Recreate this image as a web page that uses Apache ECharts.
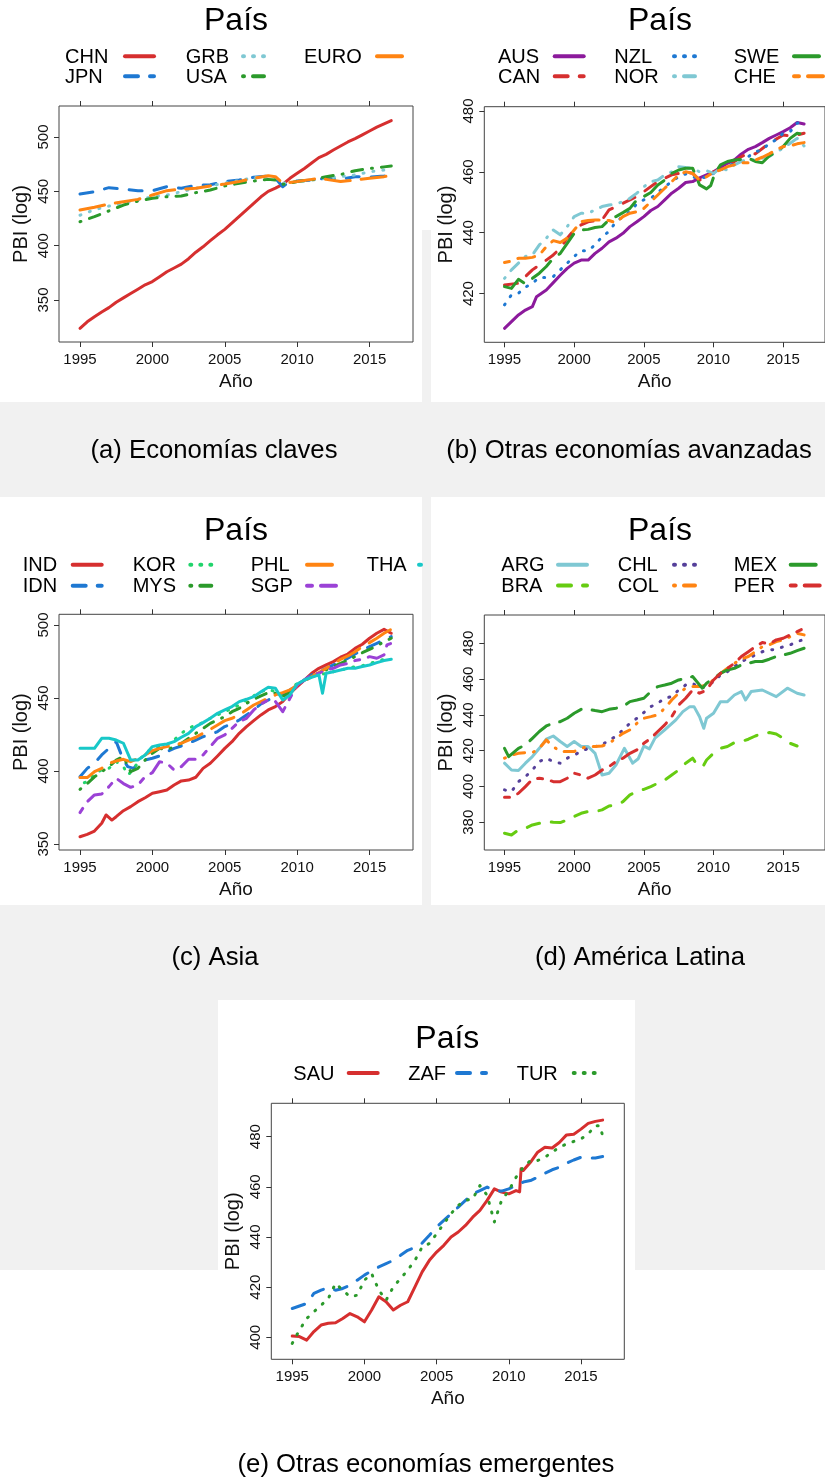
<!DOCTYPE html>
<html><head><meta charset="utf-8">
<script src="https://cdn.jsdelivr.net/npm/echarts@6/dist/echarts.min.js"></script>
<style>html,body{margin:0;padding:0;background:#fff}#c{width:825px;height:1481px}</style>
</head><body><div id="c"></div>
<script>
const FONT = '"Liberation Sans", Arial, Helvetica, sans-serif';
const xTicks = [1995, 2000, 2005, 2010, 2015];
const X_MIN = 1993.55, X_MAX = 2018.0;

// ---------- (a) Economías claves ----------
const CHN = [[1995,324],[1995.5,330],[1996,334.7],[1996.5,339],[1997,343],[1997.5,348],[1998,352],[1998.5,356],[1999,360],[1999.5,364],[2000,367],[2000.5,371.5],[2001,376],[2001.5,379.5],[2002,383],[2002.5,388],[2003,394],[2003.5,399],[2004,404.6],[2004.5,410],[2005,415],[2005.5,421],[2006,427],[2006.5,433],[2007,439],[2007.5,445],[2008,450],[2008.5,453],[2009,456.4],[2009.5,462],[2010,466.6],[2010.5,471],[2011,476],[2011.5,481],[2012,484],[2012.5,488],[2013,491.7],[2013.5,495.4],[2014,498.5],[2014.5,502],[2015,505.5],[2015.5,509],[2016,512],[2016.5,515]];
const JPN = [[1995,447.5],[1996,449.7],[1997,453.4],[1998,452],[1999,450.6],[2000,450.6],[2001,454.3],[2002,452.8],[2003,455.5],[2004,456],[2005,459],[2006,460.4],[2007,463],[2008,464],[2008.5,462],[2009,454.3],[2009.5,459],[2010,459.5],[2011,460.4],[2012,462],[2013,461],[2014,463.5],[2015,463],[2016,464],[2016.5,465]];
const GRB = [[1995,428],[1996,433],[1997,436.5],[1998,439],[1999,442],[2000,445],[2001,446.6],[2002,449.7],[2003,452.8],[2004,455],[2005,457.4],[2006,460],[2007,462.6],[2008,464],[2008.5,462],[2009,457.4],[2010,459],[2011,460.4],[2012,462],[2013,463.5],[2014,465],[2015,468],[2016,469.6],[2016.5,471]];
const USA = [[1995,422],[1996,426.7],[1997,432],[1998,437.4],[1999,441],[2000,443.6],[2001,445],[2002,445.7],[2003,448.8],[2004,451.2],[2005,455],[2006,457.4],[2007,459.5],[2008,461],[2008.5,460.4],[2009,456.4],[2009.5,457.4],[2010,459],[2011,460.4],[2012,463.5],[2013,465.5],[2014,469],[2015,471],[2016,472.5],[2016.5,473.3]];
const EURO = [[1995,432.8],[1996,435.3],[1997,438.3],[1998,440.5],[1999,442.6],[2000,446.6],[2001,450.6],[2002,452],[2003,452.8],[2004,455],[2005,456.7],[2006,459],[2007,462],[2008,464.4],[2008.5,463.5],[2009,457.4],[2010,459],[2011,461],[2011.5,462],[2012,461],[2013,459],[2014,460.4],[2015,462],[2016,463.5],[2016.5,465]];

// ---------- (b) Otras economías avanzadas ----------
const AUS = [[1995,408.6],[1995.5,410.8],[1996,413],[1996.5,414.6],[1997,415.7],[1997.3,419],[1998,421.2],[1998.5,423.6],[1999,426],[1999.5,428.3],[2000,430],[2000.5,431],[2001,431],[2001.5,433.2],[2002,434.9],[2002.5,437],[2003,438.2],[2003.5,439.8],[2004,442],[2004.5,443.6],[2005,445.3],[2005.5,447.3],[2006,448.6],[2006.5,450.8],[2007,453],[2007.5,454.6],[2008,456.5],[2008.5,456.8],[2009,458],[2009.5,459],[2010,460],[2010.5,461.4],[2011,462.8],[2011.5,463.9],[2012,465.9],[2012.5,467.4],[2013,468.3],[2013.5,469.6],[2014,471],[2014.5,472.1],[2015,473.2],[2015.5,474.5],[2016,476.2],[2016.5,475.7]];
const CAN = [[1995,422.8],[1996,423.4],[1996.5,425.6],[1997,427.8],[1997.5,429.4],[1998,431],[1998.5,432.7],[1999,434.9],[1999.5,438.2],[2000,440.9],[2000.5,442.6],[2001,443.6],[2002,444.2],[2002.5,447.5],[2003,448.6],[2004,450.8],[2004.5,451.9],[2005,453.5],[2006,456.8],[2007,459],[2008,460],[2008.5,459.5],[2009,457.3],[2009.5,458.4],[2010,460],[2011,461.7],[2012,465],[2012.5,466.1],[2013,465.9],[2014,469.4],[2015,472.1],[2015.5,471.8],[2016,472.1],[2016.5,472.7]];
const NZL = [[1995,416.3],[1995.5,419.6],[1996,420.1],[1996.5,422.1],[1997,423.4],[1997.5,425.3],[1998,425.3],[1998.5,425.6],[1999,427.8],[1999.5,430],[2000,432.2],[2000.5,434.1],[2001,434.1],[2001.5,436],[2002,438.7],[2002.5,440.4],[2003,443.6],[2003.5,445.3],[2004,446.9],[2004.5,449.5],[2005,450.8],[2005.5,451.3],[2006,453.2],[2006.5,455.1],[2007,456.8],[2007.5,458.4],[2008,459.3],[2008.5,458.4],[2009,457.7],[2009.5,458.4],[2010,459.5],[2011,461.7],[2011.5,462.8],[2012,463.6],[2012.5,465],[2013,466.6],[2013.5,467.2],[2014,469.4],[2014.5,470.5],[2015,472.7],[2015.5,473.2],[2016,476],[2016.5,476.2]];
const NOR = [[1995,425],[1995.5,427.8],[1996,430],[1996.5,432.2],[1997,432.7],[1997.5,436],[1998,438.2],[1998.5,440.9],[1999,439.3],[1999.5,442],[2000,445.3],[2000.5,446.4],[2001,446.4],[2001.5,447.5],[2002,448.6],[2002.5,449.1],[2003,449.5],[2003.5,450.2],[2004,451.3],[2004.5,453],[2005,455.1],[2005.5,456.8],[2006,457.3],[2006.5,459],[2007,460],[2007.5,461.7],[2008,461.4],[2008.5,461.2],[2009,460],[2009.5,460.4],[2010,459.5],[2010.5,461.2],[2011,460.6],[2011.5,462.3],[2012,463.4],[2012.5,464.1],[2013,463.9],[2013.5,464.5],[2014,465],[2014.5,466.6],[2015,467.7],[2015.5,469.4],[2016,471],[2016.5,468.5]];
const SWE = [[1995,422.3],[1995.5,421.7],[1996,424.7],[1996.5,423.2],[1997,425],[1997.5,426.7],[1998,428.9],[1998.5,431.6],[1999,433.2],[1999.5,436.5],[2000,439.8],[2000.5,440.9],[2001,441.1],[2001.5,441.7],[2002,442],[2002.5,444.2],[2003,445.3],[2003.5,446.6],[2004,448],[2004.5,450.8],[2005,451.9],[2005.5,453.2],[2006,455.7],[2006.5,457.3],[2007,459.5],[2007.5,460.6],[2008,461.2],[2008.5,461.2],[2009,455.7],[2009.5,454.4],[2009.8,455.5],[2010.1,459.5],[2010.5,462.3],[2011,463.4],[2011.5,463.9],[2012,464.1],[2012.5,464.5],[2013,463.4],[2013.5,463],[2014,465.2],[2014.5,466.6],[2015,468.3],[2015.5,471],[2016,472.7],[2016.2,472.5]];
const CHE = [[1995,430.2],[1995.5,430.7],[1996,431.6],[1996.5,431.6],[1997,431.9],[1997.5,432.7],[1998,435.4],[1998.5,437.4],[1999,436.8],[1999.5,438.2],[2000,440.9],[2000.5,443.6],[2001,444],[2001.5,444.2],[2002,444.2],[2002.5,444],[2003,443.3],[2003.5,445.3],[2004,446.4],[2004.5,446.9],[2005,448],[2005.5,450.2],[2006,452.4],[2006.5,454.6],[2007,456.8],[2007.5,459],[2008,460],[2008.5,459.5],[2009,457.3],[2009.5,458.4],[2010,459.9],[2010.5,460.6],[2011,461.7],[2011.5,462.3],[2012,463],[2012.5,463],[2013,463.9],[2013.5,464.8],[2014,465.9],[2014.5,467.2],[2015,468.3],[2015.5,468.5],[2016,469.2],[2016.5,469.6]];

// ---------- (c) Asia ----------
const IND = [[1995,355],[1995.5,356.6],[1996,358.9],[1996.5,364.2],[1996.8,369.9],[1997.2,366.4],[1997.5,368.7],[1998,372.8],[1998.5,375.6],[1999,379],[1999.5,381.7],[2000,384.7],[2000.5,385.8],[2001,387],[2001.5,390.4],[2002,393.2],[2002.5,393.8],[2003,395.7],[2003.5,401.8],[2004,405.3],[2004.5,410.3],[2005,415.5],[2005.5,420.1],[2006,425.8],[2006.5,430.4],[2007,434.5],[2007.5,438.4],[2008,441.8],[2008.5,444.1],[2009,447.5],[2009.5,453.2],[2010,457.8],[2010.5,462.3],[2011,466.9],[2011.5,470.3],[2012,472.6],[2012.5,474.9],[2013,477.9],[2013.5,480.1],[2014,484],[2014.5,486.8],[2015,490.9],[2015.5,494.3],[2016,497],[2016.5,494.3]];
const IDN = [[1995,396],[1995.5,401.8],[1996,405.3],[1996.5,411],[1997,415.5],[1997.5,420.1],[1998,407.5],[1998.3,403],[1998.7,401.8],[1999,405.3],[1999.5,407.5],[2000,408.7],[2000.5,410.3],[2001,413.2],[2001.5,415.5],[2002,417.1],[2002.5,419],[2003,421.2],[2003.5,423.5],[2004,424.7],[2004.5,427],[2005,430.4],[2005.5,432.2],[2006,434.9],[2006.5,438.4],[2007,441.8],[2007.5,445.9],[2008,448.6],[2008.5,450.9],[2009,452.1],[2009.5,455.5],[2010,458.9],[2010.5,462.3],[2011,465.8],[2011.5,468],[2012,470.3],[2012.5,472.6],[2013,474.9],[2013.5,477.2],[2014,480.1],[2014.5,482.9],[2015,485.2],[2015.5,487.4],[2016,489.7],[2016.5,492]];
const KOR = [[1995.3,392],[1995.7,393.8],[1996,398.4],[1996.5,400.7],[1997,401.8],[1997.5,406.4],[1998,403],[1998.3,397.3],[1998.7,400.7],[1999,406.4],[1999.5,412.1],[2000,415.5],[2000.5,416.7],[2001,417.8],[2001.5,421.2],[2002,425.8],[2002.5,429.2],[2003,431.5],[2003.5,433.1],[2004,436.1],[2004.5,438.4],[2005,440.6],[2005.5,442.9],[2006,445.2],[2006.5,448.6],[2007,451.4],[2007.5,454.3],[2008,455.9],[2008.5,454.3],[2009,450.9],[2009.5,455.5],[2010,460],[2010.5,462.3],[2011,464.6],[2011.5,465.8],[2012,466.9],[2012.5,468],[2013,469.2],[2013.5,470.3],[2014,471.5],[2014.5,472.1],[2015,473.7],[2015.5,474.9],[2016,476.5],[2016.5,477.2]];
const MYS = [[1995,387.4],[1995.5,391.4],[1996,396],[1996.5,399.5],[1997,403],[1997.5,407.5],[1998,409.8],[1998.5,399.5],[1999,401.8],[1999.5,407.5],[2000,412.1],[2000.5,415.5],[2001,414.4],[2001.5,416.7],[2002,418.9],[2002.5,422.4],[2003,425.8],[2003.5,429.2],[2004,432.6],[2004.5,434.9],[2005,437.2],[2005.5,440.6],[2006,442.9],[2006.5,446.3],[2007,449.1],[2007.5,451.4],[2008,453.7],[2008.5,453.2],[2009,450.9],[2009.5,454.3],[2010,458.9],[2010.5,462.3],[2011,464.6],[2011.5,466.9],[2012,469.2],[2012.5,471.5],[2013,473.7],[2013.5,476],[2014,478.3],[2014.5,481],[2015,483.3],[2015.5,485.6],[2016,488.6],[2016.5,490.9]];
const PHL = [[1995,395.5],[1995.5,395.5],[1996,399.5],[1996.5,401.8],[1997,405.3],[1997.5,406.8],[1998,408],[1998.5,406.4],[1999,408.7],[1999.5,411],[2000,413.9],[2000.5,415.5],[2001,416.7],[2001.5,417.8],[2002,419],[2002.5,421.2],[2003,423.1],[2003.5,425.8],[2004,428.5],[2004.5,431.5],[2005,434.5],[2005.5,436.1],[2006,438.4],[2006.5,441.8],[2007,445.2],[2007.5,447.5],[2008,449.8],[2008.5,452.1],[2009,453.7],[2009.5,455.5],[2010,458.9],[2010.5,461.6],[2011,464.6],[2011.5,467.4],[2012,470.3],[2012.5,473.3],[2013,476.5],[2013.5,478.8],[2014,481.7],[2014.5,485.2],[2015,487.9],[2015.5,490.9],[2016,494.3],[2016.5,497]];
const SGP = [[1995,371.5],[1995.5,379],[1996,383.6],[1996.5,384.2],[1997,389.3],[1997.5,395],[1998,391.4],[1998.5,388.8],[1999,390.4],[1999.5,396.1],[2000,398.9],[2000.5,406.4],[2001,405.3],[2001.5,400.7],[2002,403],[2002.5,408],[2003,408],[2003.5,411],[2004,416.7],[2004.5,422.4],[2005,424.7],[2005.5,429.2],[2006,433.8],[2006.5,436.1],[2007,441.8],[2007.5,445.9],[2008,448.6],[2008.5,447.5],[2009,440.6],[2009.5,449.8],[2010,458.9],[2010.5,462.3],[2011,465.8],[2011.5,466.9],[2012,469.2],[2012.5,470.3],[2013,472.6],[2013.5,473.7],[2014,475.6],[2014.5,476.5],[2015,478.3],[2015.5,477.2],[2016,479.5],[2016.2,486.3],[2016.5,487.4]];
const THA = [[1995,415.5],[1996,415.5],[1996.5,422.4],[1997,422.4],[1997.5,421.2],[1998,419],[1998.5,407.5],[1999,407.5],[1999.5,411],[2000,416.7],[2000.5,417.8],[2001,418.5],[2001.5,420.1],[2002,423.1],[2002.5,425.8],[2003,430.4],[2003.5,433.1],[2004,436.1],[2004.5,439.5],[2005,441.8],[2005.5,444.1],[2006,447.5],[2006.5,449.1],[2007,450.9],[2007.5,454.3],[2008,457.3],[2008.5,456.6],[2009,448.6],[2009.5,452.1],[2010,459.6],[2010.5,462.3],[2011,464.2],[2011.5,465.8],[2011.75,453.2],[2012,466.9],[2012.5,468],[2013,469.2],[2013.5,470.3],[2014,470.3],[2014.5,471.5],[2015,472.6],[2015.5,474.2],[2016,475.6],[2016.5,476.5]];

// ---------- (d) América Latina ----------
const ARG = [[1995,413],[1995.5,409.2],[1996,408.9],[1996.5,413],[1997,416.7],[1997.5,421.3],[1998,426.4],[1998.5,428.2],[1999,425.1],[1999.5,422.3],[2000,425.1],[2000.5,422.3],[2001,422.3],[2001.5,418.5],[2002,406.4],[2002.5,407.4],[2003,412],[2003.6,421.3],[2004.2,413],[2004.6,415.5],[2005,422.5],[2005.4,421],[2005.8,427],[2006.5,431.6],[2007.3,437.2],[2007.8,441.8],[2008.3,444.6],[2008.6,444.6],[2009,439],[2009.3,432.5],[2009.5,438.1],[2010,440.9],[2010.5,447.4],[2011,447.4],[2011.5,451.1],[2012,453],[2012.3,448.3],[2012.7,453],[2013.5,453.9],[2014.5,450.2],[2015.3,454.9],[2016,452.1],[2016.5,451.1]];
const BRA = [[1995,373.9],[1995.5,372.9],[1996,375.7],[1996.5,376.6],[1997,378.5],[1997.5,379.4],[1998,380.4],[1998.5,380],[1999,379.8],[1999.5,381.3],[2000,383.2],[2000.5,385],[2001,386],[2001.5,386],[2002,386.9],[2002.5,389.1],[2003,389.7],[2003.5,391.5],[2004,395.3],[2004.5,397.1],[2005,398.4],[2005.5,399.9],[2006,401.8],[2006.5,403.6],[2007,406.4],[2007.5,409.2],[2008,413],[2008.5,415.8],[2008.9,411.1],[2009.3,412],[2009.5,414.8],[2010,418.5],[2010.5,421.3],[2011,422.3],[2011.5,424.5],[2012,425.1],[2012.5,426.4],[2013,428.2],[2013.5,429.7],[2014,430.1],[2014.5,429.3],[2015,426.9],[2015.5,424.1],[2016,422.6]];
const CHL = [[1995,398.1],[1995.5,397.1],[1996,402.7],[1996.5,405.5],[1997,409.2],[1997.5,413.9],[1998,415.8],[1998.5,413.9],[1999,413],[1999.5,415.8],[2000,417.6],[2000.5,419.5],[2001,421.3],[2001.5,422.3],[2002,423.2],[2002.5,426],[2003,427.9],[2003.5,431.6],[2004,435.3],[2004.5,438.1],[2005,441.3],[2005.5,444.6],[2006,446.5],[2006.5,449.3],[2007,450.2],[2007.5,453.9],[2008,456.7],[2008.5,457.7],[2009,454.9],[2009.5,455.8],[2010,458.6],[2010.5,462.3],[2011,464.2],[2011.5,467],[2012,469.8],[2012.5,471.6],[2013,473.5],[2013.5,475.3],[2014,476.3],[2014.5,476.6],[2015,478.1],[2015.5,479.1],[2016,480.9],[2016.5,482.2]];
const COL = [[1995,415.8],[1995.5,417.6],[1996,418.5],[1996.5,418.9],[1997,418.9],[1997.5,421.3],[1998,426],[1998.5,422.3],[1999,419.5],[1999.5,419.5],[2000,419.5],[2000.5,421.3],[2001,422.3],[2001.5,422.3],[2002,422.6],[2002.5,424.1],[2003,426.9],[2003.5,429.7],[2004,431.6],[2004.5,435.3],[2005,438.1],[2005.5,439],[2006,440],[2006.5,443.7],[2007,448.3],[2007.5,452.1],[2008,454.9],[2008.5,455.8],[2009,455.8],[2009.5,456.7],[2010,459.5],[2010.5,463.2],[2011,466],[2011.5,468.8],[2012,471.1],[2012.5,472.6],[2013,475.3],[2013.5,478.1],[2014,479.1],[2014.5,480.9],[2015,481.9],[2015.5,483.7],[2016,485.6],[2016.5,484.7]];
const MEX = [[1995,421.3],[1995.3,416.7],[1996,421.3],[1996.5,423.2],[1997,426.9],[1997.5,430.7],[1998,433.8],[1998.5,435.3],[1999,436.2],[1999.5,438.1],[2000,440.9],[2000.5,443.1],[2001,443.1],[2001.5,442.4],[2002,441.8],[2002.5,443.1],[2003,443.7],[2003.5,444.6],[2004,447.4],[2004.5,448.3],[2005,449.3],[2005.5,453],[2006,455.8],[2006.5,456.7],[2007,457.7],[2007.5,459.5],[2008,460.4],[2008.5,461.4],[2009,456.7],[2009.2,454.9],[2009.5,457.7],[2010,460.4],[2010.5,463.2],[2011,465.1],[2011.5,466],[2012,467.9],[2012.5,468.8],[2013,469.8],[2013.5,469.8],[2014,471.1],[2014.5,472.6],[2015,473.5],[2015.5,474.4],[2016,475.9],[2016.5,477.2]];
const PER = [[1995,394],[1995.5,394],[1996,396.2],[1996.5,399.9],[1997,404],[1997.5,404.6],[1998,404],[1998.5,402.7],[1999,402.7],[1999.5,404.6],[2000,407.4],[2000.5,406.4],[2001,404.6],[2001.5,406.4],[2002,409.2],[2002.5,411.1],[2003,413.9],[2003.5,415.8],[2004,418.5],[2004.5,420.4],[2005,424.1],[2005.5,426.9],[2006,430.7],[2006.5,434.4],[2007,439],[2007.5,445.5],[2008,449.3],[2008.5,453.9],[2009,452.1],[2009.5,453.9],[2010,459.5],[2010.5,463.2],[2011,466],[2011.5,468.8],[2012,472.6],[2012.5,475.3],[2013,478.1],[2013.5,480.4],[2014,479.6],[2014.5,481.9],[2015,482.8],[2015.5,484.7],[2016,486.5],[2016.5,488.4]];

// ---------- (e) Otras economías emergentes ----------
const SAU = [[1995,400.5],[1995.5,400.3],[1996,398.9],[1996.5,402.3],[1997,404.9],[1997.5,405.6],[1998,405.8],[1998.5,407.5],[1999,409.5],[1999.5,408.2],[2000,406.2],[2000.5,410.9],[2001,416.2],[2001.5,414.2],[2002,410.9],[2002.5,412.8],[2003,414.2],[2003.5,420.1],[2004,426.1],[2004.5,430.7],[2005,434],[2005.5,436.7],[2006,440],[2006.5,442],[2007,444.6],[2007.5,447.9],[2008,450.6],[2008.5,454.6],[2009,459.2],[2009.5,457.9],[2010,457.2],[2010.5,458.5],[2010.75,458],[2010.85,467.2],[2011,466.5],[2011.5,469.8],[2012,473.8],[2012.5,475.8],[2013,475.5],[2013.5,477.7],[2014,480.7],[2014.5,481],[2015,483],[2015.5,485.3],[2016,486.1],[2016.5,486.6]];
const ZAF = [[1995,411.5],[1995.5,412.5],[1996,413.5],[1996.5,417.5],[1997,418.8],[1997.5,419.9],[1998,418.8],[1998.5,419.5],[1999,420.8],[1999.5,422.8],[2000,424.8],[2000.5,426.5],[2001,428.1],[2001.5,429.4],[2002,430.7],[2002.5,432.7],[2003,434.7],[2003.5,435.8],[2004,437.6],[2004.5,440.7],[2005,444],[2005.5,446.6],[2006,449.3],[2006.5,451.9],[2007,454.6],[2007.5,457.2],[2008,458.5],[2008.5,459.9],[2009,458.5],[2009.5,458.3],[2010,459.2],[2010.5,460.5],[2011,461.9],[2011.5,462.5],[2012,463.8],[2012.5,465.4],[2013,466.8],[2013.5,467.8],[2014,469.4],[2014.5,470.7],[2015,471.8],[2015.5,471.5],[2016,471.5],[2016.5,472.1]];
const TUR = [[1995,397.6],[1995.5,402.9],[1996,407.5],[1996.5,410.2],[1997,412.8],[1997.5,415.5],[1998,421.5],[1998.5,418.8],[1999,416.2],[1999.5,416.8],[2000,422.8],[2000.5,425.4],[2001,418.8],[2001.5,414.8],[2002,420.1],[2002.5,423.4],[2003,426.8],[2003.5,430.7],[2004,436],[2004.5,437.4],[2005,441.3],[2005.5,445.3],[2006,449.3],[2006.5,452.6],[2007,454.6],[2007.5,455.2],[2008,460.5],[2008.5,456.6],[2009,446],[2009.5,454.6],[2010,458.5],[2010.5,463.8],[2011,467.8],[2011.5,470.5],[2012,470.5],[2012.5,471.8],[2013,473.8],[2013.5,475.8],[2014,477.1],[2014.5,478.1],[2015,479.1],[2015.5,481.1],[2016,484.4],[2016.3,484.4],[2016.5,480.4]];

// ---------- styles ----------
const DASH = {
  solid: 'solid',
  dashed: [13, 12],
  dotted: [1, 9],
  dotdash: [1, 9, 11, 9],
  longdash: [25, 11],
  twodash: [5, 9, 17, 9]
};
const C = {
  red: '#d62f2f', blue: '#1e78d2', lcyan: '#7fc8d3', green: '#2b9a2b', orange: '#ff8412',
  purple: '#8c1a9c', lgreen: '#22d46c', violet: '#9b42d6', cyan: '#18c8c8', lime: '#66cc11', dpurple: '#55409a'
};

const panels = [
  { box: [59, 106, 354, 236], y: [311.4, 528.5], yTicks: [350, 400, 450, 500],
    title: [236, 21.5], rows: [57.3, 77.3], caption: ['(a) Economías claves', 214, 451],
    series: [['CHN', CHN, C.red, 'solid'], ['JPN', JPN, C.blue, 'dashed'], ['GRB', GRB, C.lcyan, 'dotted'], ['USA', USA, C.green, 'dotdash'], ['EURO', EURO, C.orange, 'longdash']],
    cols: [[65, 123, ['CHN', 'JPN']], [185.7, 241, ['GRB', 'USA']], [304, 375, ['EURO']]] },
  { box: [484.3, 106.7, 353, 235.6], y: [404.0, 481.4], yTicks: [420, 440, 460, 480],
    title: [660, 21.5], rows: [57.3, 77.3], caption: ['(b) Otras economías avanzadas', 629, 451],
    series: [['AUS', AUS, C.purple, 'solid'], ['CAN', CAN, C.red, 'dashed'], ['NZL', NZL, C.blue, 'dotted'], ['NOR', NOR, C.lcyan, 'dotdash'], ['SWE', SWE, C.green, 'longdash'], ['CHE', CHE, C.orange, 'twodash']],
    cols: [[498, 552.7, ['AUS', 'CAN']], [614.3, 672, ['NZL', 'NOR']], [733.7, 792, ['SWE', 'CHE']]] },
  { box: [59, 614.3, 354, 235.7], y: [345.9, 507.3], yTicks: [350, 400, 450, 500],
    title: [236, 530.7], rows: [565.7, 586.7], caption: ['(c) Asia', 215, 958],
    series: [['IND', IND, C.red, 'solid'], ['IDN', IDN, C.blue, 'dashed'], ['KOR', KOR, C.lgreen, 'dotted'], ['MYS', MYS, C.green, 'dotdash'], ['PHL', PHL, C.orange, 'longdash'], ['SGP', SGP, C.violet, 'twodash'], ['THA', THA, C.cyan, 'solid']],
    cols: [[22.7, 70.7, ['IND', 'IDN']], [132.7, 188.3, ['KOR', 'MYS']], [250.7, 305, ['PHL', 'SGP']], [366.7, 417, ['THA'], 6]] },
  { box: [484.3, 615, 353, 235], y: [364.5, 495.8], yTicks: [380, 400, 420, 440, 460, 480],
    title: [660, 530.7], rows: [565.7, 586.4], caption: ['(d) América Latina', 640, 958],
    series: [['ARG', ARG, C.lcyan, 'solid'], ['BRA', BRA, C.lime, 'dashed'], ['CHL', CHL, C.dpurple, 'dotted'], ['COL', COL, C.orange, 'dotdash'], ['MEX', MEX, C.green, 'longdash'], ['PER', PER, C.red, 'twodash']],
    cols: [[501.3, 556, ['ARG', 'BRA']], [617.7, 672, ['CHL', 'COL']], [733.7, 788.7, ['MEX', 'PER']]] },
  { box: [271.3, 1103.3, 353, 256], y: [391.25, 493.3], yTicks: [400, 420, 440, 460, 480],
    title: [447.3, 1039], rows: [1074], caption: ['(e) Otras economías emergentes', 426, 1465],
    series: [['SAU', SAU, C.red, 'solid'], ['ZAF', ZAF, C.blue, 'dashed'], ['TUR', TUR, C.green, 'dotted']],
    cols: [[293.3, 346.7, ['SAU']], [408.3, 455, ['ZAF']], [516.7, 571.7, ['TUR']]] }
];

// faint page watermark visible between the panel images (background only)
const WATERMARK = [[0, 402, 825, 95], [422, 230, 9, 172], [422, 497, 9, 408], [0, 905, 825, 95], [0, 1000, 218, 270], [635, 1000, 190, 270]];

const option = { animation: false, backgroundColor: '#ffffff', grid: [], xAxis: [], yAxis: [], series: [], graphic: [] };
WATERMARK.forEach(([x, y, w, h]) => option.graphic.push({ type: 'rect', silent: true, z: -10,
  shape: { x, y, width: w, height: h }, style: { fill: '#f1f1f1' } }));

const TXT = '#111';
const tickStyle = { color: '#333', width: 1 };
const fmt = v => String(v);

panels.forEach((p, i) => {
  option.grid.push({ left: p.box[0], top: p.box[1], width: p.box[2], height: p.box[3], show: true,
    borderColor: '#444', borderWidth: 1, backgroundColor: 'transparent', containLabel: false });
  option.xAxis.push({ gridIndex: i, type: 'value', position: 'bottom', min: X_MIN, max: X_MAX,
    axisLine: { show: false }, splitLine: { show: false },
    axisTick: { show: true, length: 5, lineStyle: tickStyle, customValues: xTicks },
    axisLabel: { show: true, customValues: xTicks, formatter: fmt, fontSize: 15, fontFamily: FONT, color: TXT, margin: 10 },
    name: 'Año', nameLocation: 'middle', nameGap: 30, nameTextStyle: { fontSize: 19, fontFamily: FONT, color: TXT } });
  option.xAxis.push({ gridIndex: i, type: 'value', position: 'top', min: X_MIN, max: X_MAX,
    axisLine: { show: false }, splitLine: { show: false },
    axisTick: { show: true, length: 5, lineStyle: tickStyle, customValues: xTicks },
    axisLabel: { show: false } });
  option.yAxis.push({ gridIndex: i, type: 'value', min: p.y[0], max: p.y[1],
    axisLine: { show: false }, splitLine: { show: false },
    axisTick: { show: true, length: 5, lineStyle: tickStyle, customValues: p.yTicks },
    axisLabel: { show: true, customValues: p.yTicks, formatter: fmt, rotate: 90, fontSize: 15, fontFamily: FONT, color: TXT, margin: 8 },
    name: 'PBI (log)', nameLocation: 'middle', nameGap: 28, nameTextStyle: { fontSize: 20, fontFamily: FONT, color: TXT } });

  const styleOf = {};
  p.series.forEach(([name, data, color, lty]) => {
    styleOf[name] = [color, lty];
    option.series.push({ type: 'line', name, data, xAxisIndex: 2 * i, yAxisIndex: i,
      symbol: 'none', showSymbol: false, silent: true, clip: true,
      itemStyle: { color },
      lineStyle: { color, width: 3, type: DASH[lty], cap: 'round', join: 'round' } });
  });

  option.graphic.push({ type: 'text', x: p.title[0], y: p.title[1], silent: true,
    style: { text: 'País', font: '32px ' + FONT, fill: '#000', align: 'center', verticalAlign: 'middle' } });
  p.cols.forEach(([tx, sx, names, w]) => {
    names.forEach((nm, r) => {
      const yy = p.rows[r];
      const [color, lty] = styleOf[nm];
      option.graphic.push({ type: 'text', x: tx, y: yy, silent: true,
        style: { text: nm, font: '20px ' + FONT, fill: '#000', align: 'left', verticalAlign: 'middle' } });
      const len = w || 33;
      const dash = DASH[lty];
      option.graphic.push({ type: 'line', silent: true,
        shape: { x1: sx + 2, y1: yy - 1, x2: sx + len - 2, y2: yy - 1 },
        style: { stroke: color, lineWidth: 4, lineCap: 'round', lineDash: dash === 'solid' ? null : dash } });
    });
  });
  option.graphic.push({ type: 'text', x: p.caption[1], y: p.caption[2], silent: true,
    style: { text: p.caption[0], font: '25.7px ' + FONT, fill: '#000', align: 'center', verticalAlign: 'middle' } });
});

const chart = echarts.init(document.getElementById('c'), null, { renderer: 'canvas', width: 825, height: 1481 });
chart.setOption(option);
</script>
</body></html>
